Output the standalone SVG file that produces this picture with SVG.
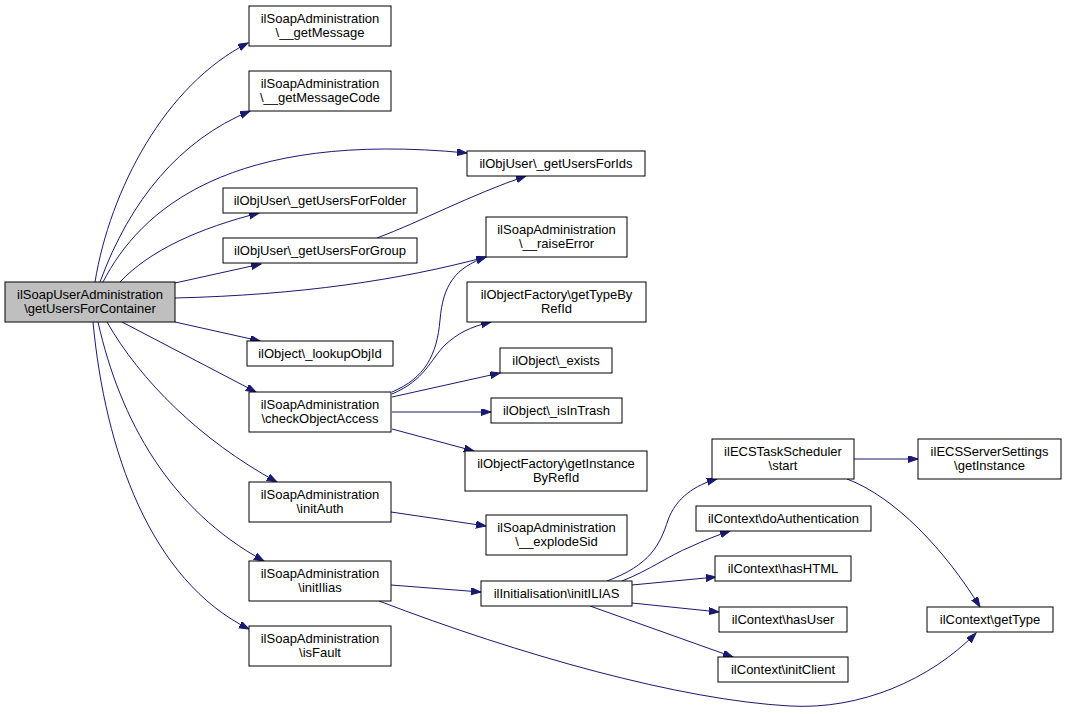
<svg xmlns="http://www.w3.org/2000/svg" width="1067" height="714" viewBox="0 0 1067 714">
<style>
.n rect{fill:#ffffff;stroke:#000000;stroke-width:1}
.root rect{fill:#bfbfbf}
text{font-family:"Liberation Sans",Arial,Helvetica,sans-serif;font-size:13px;fill:#000;text-anchor:middle}
.e path{fill:none;stroke:#191970;stroke-width:1;marker-end:url(#ah)}
</style>
<defs>
<marker id="ah" markerUnits="userSpaceOnUse" markerWidth="11" markerHeight="8" refX="10" refY="3.5" orient="auto">
<path d="M0,0 L10,3.5 L0,7 z" fill="#191970" stroke="#191970" stroke-width="1"/>
</marker>
</defs>
<rect width="1067" height="714" fill="#ffffff"/>
<g class="e" id="edges">
<path d="M95,282 C110,190 165,85 248,43"/>
<path d="M100,282 C130,200 180,140 250,111"/>
<path d="M103,282 C140,210 230,130 467,153"/>
<path d="M120,282 C150,250 200,228 259,213"/>
<path d="M175,283 L261,264"/>
<path d="M377,238 C420,222 470,195 526,176"/>
<path d="M175,298 C300,295 400,280 486,257"/>
<path d="M175,322 L260,341"/>
<path d="M122,322 L256,392"/>
<path d="M107,322 C140,380 200,440 277,482"/>
<path d="M98,322 C120,420 170,510 264,561"/>
<path d="M93,322 C105,450 150,580 249,629"/>
<path d="M392,392 C425,378 437,355 440,320 C443,285 455,268 486,257"/>
<path d="M392,394 C425,380 430,360 445,345 C458,333 470,327 491,322"/>
<path d="M392,397 L500,373"/>
<path d="M392,412 L491,412"/>
<path d="M392,429 L474,451"/>
<path d="M391,512 L486,526"/>
<path d="M391,585 L481,592"/>
<path d="M379,601 C520,655 680,700 790,706 C860,710 930,680 976,633"/>
<path d="M607,581 C650,565 660,545 668,520 C676,498 695,485 717,479"/>
<path d="M622,581 C650,570 670,555 690,547 C705,540 718,535 730,531"/>
<path d="M632,585 L716,577"/>
<path d="M632,603 L719,612"/>
<path d="M590,606 L733,657"/>
<path d="M854,459 L918,459"/>
<path d="M847,479 C895,497 945,550 980,607"/>
</g>
<g class="n root" id="root"><rect x="5" y="282" width="170" height="40"/><text x="90" y="298.5">ilSoapUserAdministration</text><text x="90" y="313">\getUsersForContainer</text></g>
<g class="n" id="getMessage"><rect x="249" y="6" width="142" height="40"/><text x="320" y="22.5">ilSoapAdministration</text><text x="320" y="37">\__getMessage</text></g>
<g class="n" id="getMessageCode"><rect x="249" y="71" width="142" height="40"/><text x="320" y="87.5">ilSoapAdministration</text><text x="320" y="102">\__getMessageCode</text></g>
<g class="n" id="getUsersForIds"><rect x="467" y="151" width="178" height="25"/><text x="556" y="167.5">ilObjUser\_getUsersForIds</text></g>
<g class="n" id="getUsersForFolder"><rect x="223" y="188" width="194" height="25"/><text x="320" y="204.5">ilObjUser\_getUsersForFolder</text></g>
<g class="n" id="getUsersForGroup"><rect x="223" y="238" width="194" height="25"/><text x="320" y="254.5">ilObjUser\_getUsersForGroup</text></g>
<g class="n" id="raiseError"><rect x="486" y="217" width="141" height="40"/><text x="556.5" y="233.5">ilSoapAdministration</text><text x="556.5" y="248">\__raiseError</text></g>
<g class="n" id="getTypeByRefId"><rect x="467" y="282" width="179" height="40"/><text x="556.5" y="298.5">ilObjectFactory\getTypeBy</text><text x="556.5" y="313">RefId</text></g>
<g class="n" id="exists"><rect x="500" y="348" width="112" height="25"/><text x="556" y="364.5">ilObject\_exists</text></g>
<g class="n" id="isInTrash"><rect x="491" y="398" width="131" height="25"/><text x="556.5" y="414.5">ilObject\_isInTrash</text></g>
<g class="n" id="getInstanceByRefId"><rect x="465" y="451" width="182" height="40"/><text x="556" y="467.5">ilObjectFactory\getInstance</text><text x="556" y="482">ByRefId</text></g>
<g class="n" id="lookupObjId"><rect x="247" y="341" width="146" height="25"/><text x="320" y="357.5">ilObject\_lookupObjId</text></g>
<g class="n" id="checkObjectAccess"><rect x="249" y="392" width="142" height="40"/><text x="320" y="408.5">ilSoapAdministration</text><text x="320" y="423">\checkObjectAccess</text></g>
<g class="n" id="initAuth"><rect x="249" y="482" width="142" height="40"/><text x="320" y="498.5">ilSoapAdministration</text><text x="320" y="513">\initAuth</text></g>
<g class="n" id="explodeSid"><rect x="486" y="515" width="141" height="40"/><text x="556.5" y="531.5">ilSoapAdministration</text><text x="556.5" y="546">\__explodeSid</text></g>
<g class="n" id="initIlias"><rect x="249" y="561" width="142" height="40"/><text x="320" y="577.5">ilSoapAdministration</text><text x="320" y="592">\initIlias</text></g>
<g class="n" id="initILIAS"><rect x="481" y="581" width="151" height="25"/><text x="556.5" y="597.5">ilInitialisation\initILIAS</text></g>
<g class="n" id="isFault"><rect x="249" y="626" width="142" height="40"/><text x="320" y="642.5">ilSoapAdministration</text><text x="320" y="657">\isFault</text></g>
<g class="n" id="ecsStart"><rect x="712" y="439" width="142" height="40"/><text x="783" y="455.5">ilECSTaskScheduler</text><text x="783" y="470">\start</text></g>
<g class="n" id="ecsGetInstance"><rect x="918" y="439" width="143" height="40"/><text x="989.5" y="455.5">ilECSServerSettings</text><text x="989.5" y="470">\getInstance</text></g>
<g class="n" id="doAuthentication"><rect x="696" y="506" width="175" height="25"/><text x="783.5" y="522.5">ilContext\doAuthentication</text></g>
<g class="n" id="hasHTML"><rect x="715" y="556" width="136" height="25"/><text x="783" y="572.5">ilContext\hasHTML</text></g>
<g class="n" id="hasUser"><rect x="719" y="607" width="128" height="25"/><text x="783" y="623.5">ilContext\hasUser</text></g>
<g class="n" id="initClient"><rect x="718" y="657" width="130" height="25"/><text x="783" y="673.5">ilContext\initClient</text></g>
<g class="n" id="getType"><rect x="927" y="607" width="126" height="25"/><text x="990" y="623.5">ilContext\getType</text></g>
</svg>
